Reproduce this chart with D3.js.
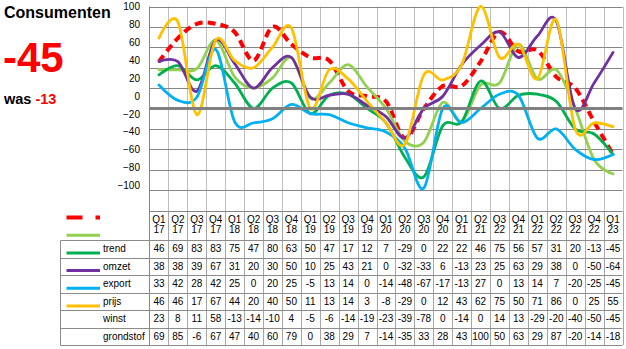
<!DOCTYPE html>
<html>
<head>
<meta charset="utf-8">
<script src="https://cdn.jsdelivr.net/npm/d3@7"></script>
<style>
  body { margin: 0; background: #fff; }
  svg { display: block; }
  text { font-family: "Liberation Sans", Arial, sans-serif; }
</style>
</head>
<body>
<svg id="chart" width="626" height="349"></svg>
<script>
// Quarters shown along the category axis (label line 1 / line 2)
const quarters = ["Q1 17","Q2 17","Q3 17","Q4 17","Q1 18","Q2 18","Q3 18","Q4 18",
  "Q1 19","Q2 19","Q3 19","Q4 19","Q1 20","Q2 20","Q3 20","Q4 20",
  "Q1 21","Q2 21","Q3 22","Q4 21","Q1 22","Q2 22","Q3 22","Q4 22","Q1 23"];

// Series values per quarter
const trend     = [46,69,83,83,75,47,80,63,50,47,17,12,7,-29,0,22,22,46,75,56,57,31,20,-13,-45];
const omzet     = [38,38,39,67,31,20,30,50,10,25,43,21,0,-32,-33,6,-13,23,25,63,29,38,0,-50,-64];
const exportV   = [33,42,28,42,25,0,20,25,-5,13,14,0,-14,-48,-67,-17,-13,27,0,13,14,7,-20,-25,-45];
const prijs     = [46,46,17,67,44,20,40,50,11,13,14,3,-8,-29,0,12,43,62,75,50,71,86,0,25,55];
const winst     = [23,8,11,58,-13,-14,-10,4,-5,-6,-14,-19,-23,-39,-78,0,-14,0,14,13,-29,-20,-40,-50,-45];
const grondstof = [69,85,-6,67,47,40,60,79,0,38,29,7,-14,-35,33,28,43,100,50,63,29,87,-20,-14,-18];

const seriesNames  = ["trend","omzet","export","prijs","winst","grondstof"];
const seriesValues = [trend, omzet, exportV, prijs, winst, grondstof];
const seriesColors = ["#FF0000","#92D050","#00B050","#7030A0","#00B0F0","#FFC000"];

// Value labels printed on the vertical axis
const axisLabels = [100,80,60,40,20,0,-20,-40,-60,-80,-100];
// Horizontal gridline values
const gridValues = [100,80,60,40,20,0,-20,-40,-60,-80,-100];

// Headline figures
const headlineTitle = "Consumenten";
const headlineNow = -45;
const headlinePrev = -13;

const svg = d3.select("#chart");

const plotLeft = 149.5, plotRight = 622.5, plotTop = 6.5, plotBottom = 210.5;
const headerBottom = 240, rowH = 17.5, tableLeft = 60.5;
const tableBottom = headerBottom + rowH * seriesNames.length;

// one band per quarter position (labels may repeat)
const idx = d3.range(quarters.length);
const x = d3.scaleBand().domain(idx).range([plotLeft, plotRight]).padding(0);
const xc = i => x(i) + x.bandwidth() / 2;
const y = d3.scaleLinear().domain([-100, 100]).range([plotBottom, plotTop]);
const yLabel = d3.scaleLinear().domain([-100, 100]).range([185.3, 6.7]);

// ---- gridlines ----
const grid = svg.append("g");
const colEdges = idx.map(i => x(i)).concat([plotRight]);
// vertical column separators (plot part, lighter)
grid.selectAll("line.vp").data(colEdges.slice(1)).join("line")
  .attr("x1", d => Math.round(d) + 0.5).attr("x2", d => Math.round(d) + 0.5)
  .attr("y1", plotTop).attr("y2", plotBottom)
  .attr("stroke", "#BFBFBF").attr("stroke-width", 1);
// vertical column separators (table part)
grid.selectAll("line.vt").data(colEdges.slice(1)).join("line")
  .attr("x1", d => Math.round(d) + 0.5).attr("x2", d => Math.round(d) + 0.5)
  .attr("y1", plotBottom).attr("y2", tableBottom)
  .attr("stroke", "#A6A6A6").attr("stroke-width", 1);
// horizontal gridlines
grid.selectAll("line.h").data(gridValues).join("line")
  .attr("x1", plotLeft).attr("x2", plotRight)
  .attr("y1", d => Math.round(y(d)) + 0.5).attr("y2", d => Math.round(y(d)) + 0.5)
  .attr("stroke", "#868686").attr("stroke-width", 1);
// left plot border, running down through the table
grid.append("line")
  .attr("x1", plotLeft).attr("x2", plotLeft).attr("y1", plotTop).attr("y2", tableBottom)
  .attr("stroke", "#868686");

// ---- table rules ----
const rowLines = d3.range(seriesNames.length + 1).map(i => headerBottom + i * rowH);
grid.selectAll("line.r").data(rowLines).join("line")
  .attr("x1", tableLeft).attr("x2", plotRight)
  .attr("y1", d => Math.round(d) + 0.5).attr("y2", d => Math.round(d) + 0.5)
  .attr("stroke", "#8C8C8C");
grid.append("line")
  .attr("x1", tableLeft).attr("x2", tableLeft)
  .attr("y1", headerBottom + 0.5).attr("y2", tableBottom + 0.5)
  .attr("stroke", "#8C8C8C");

// ---- series lines ----
const line = d3.line()
  .x((d, i) => xc(i))
  .y(d => y(d))
  .curve(d3.curveCatmullRom.alpha(0));

const lines = svg.append("g");
seriesValues.forEach((vals, k) => {
  const p = lines.append("path")
    .attr("d", line(vals))
    .attr("fill", "none")
    .attr("stroke", seriesColors[k])
    .attr("stroke-linejoin", "round");
  if (k === 0) {
    p.attr("stroke-width", 4).attr("stroke-dasharray", "8,5");
  } else {
    p.attr("stroke-width", 2.8).attr("stroke-linecap", "round");
  }
});

// zero line
svg.append("line")
  .attr("x1", plotLeft).attr("x2", plotRight)
  .attr("y1", y(0)).attr("y2", y(0))
  .attr("stroke", "#808080").attr("stroke-width", 3);

// ---- value axis labels ----
const yAxis = d3.axisLeft(yLabel).tickValues(axisLabels).tickSize(0).tickPadding(0)
  .tickFormat(d3.format("d"));
const ya = svg.append("g").attr("transform", "translate(140,0)").call(yAxis);
ya.select(".domain").remove();
ya.selectAll("text").attr("font-size", 10).attr("fill", "#000")
  .attr("font-family", "'Liberation Sans', Arial, sans-serif");

// ---- table header ----
const header = svg.append("g").attr("font-size", 10).attr("text-anchor", "middle").attr("fill", "#000");
quarters.forEach((q, i) => {
  const [a, b] = q.split(" ");
  header.append("text").attr("x", xc(i)).attr("y", 222.5).text(a);
  header.append("text").attr("x", xc(i)).attr("y", 232.5).text(b);
});

// ---- table body ----
const body = svg.append("g").attr("font-size", 10).attr("fill", "#000");
seriesNames.forEach((name, r) => {
  const base = headerBottom + r * rowH + rowH / 2 + 3.6;
  body.append("text").attr("x", 103).attr("y", base).text(name);
  seriesValues[r].forEach((v, i) => {
    body.append("text").attr("x", xc(i)).attr("y", base)
      .attr("text-anchor", "middle").text(v);
  });
});

// ---- legend keys ----
const keyY = seriesColors.map((c, k) => 217.5 + k * 17.7);
seriesColors.forEach((c, k) => {
  const l = svg.append("line")
    .attr("x1", 66.5).attr("x2", 100)
    .attr("y1", keyY[k]).attr("y2", keyY[k])
    .attr("stroke", c);
  if (k === 0) l.attr("stroke-width", 4).attr("stroke-dasharray", "16,13");
  else l.attr("stroke-width", 3);
});

// ---- headline ----
svg.append("text").attr("x", 4).attr("y", 18.3)
  .attr("font-size", 16).attr("font-weight", "bold").attr("fill", "#000")
  .text(headlineTitle);
svg.append("text").attr("x", 3).attr("y", 71.7)
  .attr("font-size", 42).attr("font-weight", "bold").attr("fill", "#FF0000")
  .text(headlineNow);
const was = svg.append("text").attr("x", 4).attr("y", 104)
  .attr("font-size", 14.5).attr("font-weight", "bold").attr("fill", "#000");
was.append("tspan").text("was ");
was.append("tspan").attr("fill", "#FF0000").text(headlinePrev);
</script>
</body>
</html>
